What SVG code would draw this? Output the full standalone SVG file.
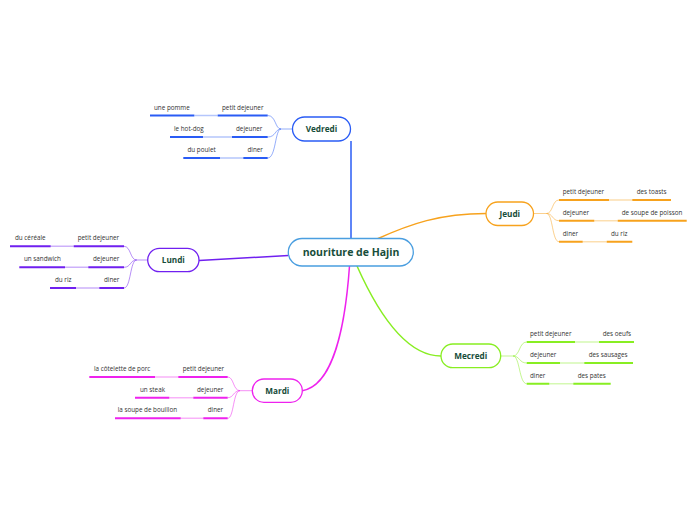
<svg xmlns="http://www.w3.org/2000/svg" width="696" height="520" viewBox="0 0 696 520">
<style>
.node{fill:#fff;stroke-width:1.3}
.nt{font-family:"Open Sans","Noto Sans",sans-serif;font-weight:bold;font-size:8.2px;fill:#174d3a;text-anchor:middle}
.ct{font-family:"Open Sans","Noto Sans",sans-serif;font-weight:bold;font-size:10.5px;fill:#174d3a;text-anchor:middle}
.lt{font-family:"Open Sans","Noto Sans",sans-serif;font-size:6.3px;fill:#333}
.main{fill:none;stroke-width:1.5}
.br{fill:none;stroke-width:1;stroke-opacity:0.5}
.ul{fill:none;stroke-width:2}
.lk{fill:none;stroke-width:1.5;stroke-opacity:0.35}
.b{stroke:#2a5cf5}.o{stroke:#f7a21d}.p{stroke:#7020f0}.g{stroke:#88ee22}.m{stroke:#ee22ee}
</style>
<g id="connectors">
<path class="main b" d="M351,238.5 L351,141"/>
<path class="main o" d="M377,239 C410,224 440,213.5 486,213.5"/>
<path class="main p" d="M199,260.5 C230,259 260,257 288.5,255.5"/>
<path class="main m" d="M349.5,266 C345,330 332,386 302.3,390.7"/>
<path class="main g" d="M357,266 C382,322 410,356 441,356"/>
</g>
<g id="central">
<rect class="node" x="288.3" y="238.5" width="125" height="27.5" rx="13.7" stroke="#4a9ee0"/>
<text class="ct" x="351" y="256">nouriture de Hajin</text>
</g>
<g id="vedredi">
<path class="br b" d="M292.5,129 L281,129 M281,129 C275,129 276,115.5 267.7,115.5 M281,129 C275,129 276,137 267.7,137 M281,129 C275,129 276,158 267.7,158"/>
<path class="ul b" d="M217.7,115.5 L267.7,115.5 M150,115.5 L194.3,115.5 M232,137 L267.7,137 M170,137 L203,137 M243.3,158 L267.7,158 M183.3,158 L220,158"/>
<path class="lk b" d="M194.3,115.5 L217.7,115.5 M203,137 L232,137 M220,158 L243.3,158"/>
<rect class="node" x="292.5" y="117" width="58" height="24" rx="12" stroke="#2a5cf5"/>
<text class="nt" x="321.5" y="132">Vedredi</text>
<text class="lt" x="154" y="109.5">une pomme</text>
<text class="lt" x="222" y="109.5">petit dejeuner</text>
<text class="lt" x="174" y="131">le hot-dog</text>
<text class="lt" x="236" y="131">dejeuner</text>
<text class="lt" x="187.5" y="152">du poulet</text>
<text class="lt" x="247.5" y="152">diner</text>
</g>
<g id="jeudi">
<path class="br o" d="M533.5,213.5 L546.5,213.5 M546.5,213.5 C553,213.5 552,200 559,200 M546.5,213.5 C553,213.5 552,220.7 559,220.7 M546.5,213.5 C553,213.5 552,241.7 559,241.7"/>
<path class="ul o" d="M559,200 L609,200 M632.3,200 L671,200 M559,220.7 L594.3,220.7 M617.7,220.7 L686.7,220.7 M559,241.7 L582.7,241.7 M606.7,241.7 L632.3,241.7"/>
<path class="lk o" d="M609,200 L632.3,200 M594.3,220.7 L617.7,220.7 M582.7,241.7 L606.7,241.7"/>
<rect class="node" x="486" y="202" width="47.5" height="23.5" rx="11.7" stroke="#f7a21d"/>
<text class="nt" x="509.8" y="216.5">Jeudi</text>
<text class="lt" x="562.7" y="194">petit dejeuner</text>
<text class="lt" x="636.7" y="194">des toasts</text>
<text class="lt" x="562.7" y="214.7">dejeuner</text>
<text class="lt" x="621.7" y="214.7">de soupe de poisson</text>
<text class="lt" x="562.7" y="235.7">diner</text>
<text class="lt" x="611" y="235.7">du riz</text>
</g>
<g id="lundi">
<path class="br p" d="M147.7,260 L136.7,260 M136.7,260 C130,260 131,246.3 124,246.3 M136.7,260 C130,260 131,267.3 124,267.3 M136.7,260 C130,260 131,288 124,288"/>
<path class="ul p" d="M73.7,246.3 L124,246.3 M10,246.3 L50.7,246.3 M88.3,267.3 L124,267.3 M19.3,267.3 L65,267.3 M99.3,288 L124,288 M50,288 L76,288"/>
<path class="lk p" d="M50.7,246.3 L73.7,246.3 M65,267.3 L88.3,267.3 M76,288 L99.3,288"/>
<rect class="node" x="147.7" y="248.3" width="51.3" height="23.4" rx="11.7" stroke="#7020f0"/>
<text class="nt" x="173.3" y="263">Lundi</text>
<text class="lt" x="15" y="240.3">du céréale</text>
<text class="lt" x="77.7" y="240.3">petit dejeuner</text>
<text class="lt" x="24" y="261.3">un sandwich</text>
<text class="lt" x="93" y="261.3">dejeuner</text>
<text class="lt" x="55" y="282">du riz</text>
<text class="lt" x="104" y="282">diner</text>
</g>
<g id="mecredi">
<path class="br g" d="M500.7,356 L513,356 M513,356 C520,356 519,342 526.7,342 M513,356 C520,356 519,363 526.7,363 M513,356 C520,356 519,383.7 526.7,383.7"/>
<path class="ul g" d="M526.7,342 L575,342 M599,342 L634,342 M526.7,363 L560,363 M584.3,363 L633,363 M526.7,383.7 L549.3,383.7 M573.3,383.7 L610.7,383.7"/>
<path class="lk g" d="M575,342 L599,342 M560,363 L584.3,363 M549.3,383.7 L573.3,383.7"/>
<rect class="node" x="441" y="344" width="59.7" height="23.7" rx="11.8" stroke="#88ee22"/>
<text class="nt" x="470.8" y="359">Mecredi</text>
<text class="lt" x="530" y="336">petit dejeuner</text>
<text class="lt" x="602.7" y="336">des oeufs</text>
<text class="lt" x="530" y="357">dejeuner</text>
<text class="lt" x="588.7" y="357">des sausages</text>
<text class="lt" x="530" y="377.7">diner</text>
<text class="lt" x="577.7" y="377.7">des pates</text>
</g>
<g id="mardi">
<path class="br m" d="M252.3,390.7 L240,390.7 M240,390.7 C233,390.7 234,377 227.7,377 M240,390.7 C233,390.7 234,397.7 227.7,397.7 M240,390.7 C233,390.7 234,418.3 227.7,418.3"/>
<path class="ul m" d="M178.3,377 L227.7,377 M89.3,377 L155,377 M193.3,397.7 L227.7,397.7 M135,397.7 L169.3,397.7 M203.3,418.3 L227.7,418.3 M115,418.3 L180.7,418.3"/>
<path class="lk m" d="M155,377 L178.3,377 M169.3,397.7 L193.3,397.7 M180.7,418.3 L203.3,418.3"/>
<rect class="node" x="252.3" y="379" width="50" height="23.3" rx="11.6" stroke="#ee22ee"/>
<text class="nt" x="277.3" y="394">Mardi</text>
<text class="lt" x="94" y="371">la côtelette de porc</text>
<text class="lt" x="182.7" y="371">petit dejeuner</text>
<text class="lt" x="140" y="391.7">un steak</text>
<text class="lt" x="197" y="391.7">dejeuner</text>
<text class="lt" x="117.7" y="412.3">la soupe de bouillon</text>
<text class="lt" x="207.7" y="412.3">diner</text>
</g>
</svg>
